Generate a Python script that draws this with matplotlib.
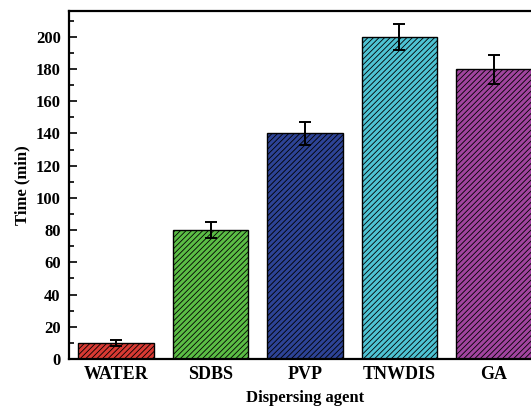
import matplotlib
matplotlib.use("Agg")
import matplotlib.pyplot as plt
from matplotlib.ticker import MultipleLocator

agents = ["WATER", "SDBS", "PVP", "TNWDIS", "GA"]
times = [10, 80, 140, 200, 180]
errors = [2, 5, 7, 8, 9]
colors = ["#d83a33", "#5bbd45", "#2d4396", "#4ec3d3", "#a1449f"]

plt.rcParams['font.family'] = ['Liberation Serif', 'DejaVu Serif']
plt.rcParams['font.weight'] = 'bold'
plt.rcParams['hatch.linewidth'] = 0.6

fig = plt.figure(figsize=(5.31, 4.08), dpi=100)
# the original picture is cropped on the right, so the axes run past the edge
ax = fig.add_axes([69 / 531, 49 / 408, 472 / 531, 348 / 408])

x = range(len(agents))
ax.bar(x, times, width=0.8, color=colors, edgecolor='black', linewidth=1.0,
       hatch='//////', yerr=errors,
       error_kw=dict(ecolor='black', elinewidth=1.4, capsize=4, capthick=1.4))

ax.set_xlim(-0.5, 4.5)
ax.set_ylim(0, 216)
ax.yaxis.set_major_locator(MultipleLocator(20))
ax.yaxis.set_minor_locator(MultipleLocator(10))
ax.set_xticks(list(x))
ax.set_xticklabels(agents, fontsize=13, fontweight='bold')
ax.tick_params(axis='x', length=0, pad=5)
ax.tick_params(axis='y', which='major', direction='in', length=6, width=1.2,
               labelsize=12, pad=6)
ax.tick_params(axis='y', which='minor', direction='in', length=3.5, width=1.2)
for lbl in ax.get_yticklabels():
    lbl.set_fontweight('bold')
for s in ax.spines.values():
    s.set_linewidth(1.6)

ax.set_xlabel('Dispersing agent', fontsize=12, fontweight='bold', labelpad=5)
ax.set_ylabel('Time (min)', fontsize=12, fontweight='bold', labelpad=4)

fig.savefig("out.png", dpi=100, facecolor='white')
